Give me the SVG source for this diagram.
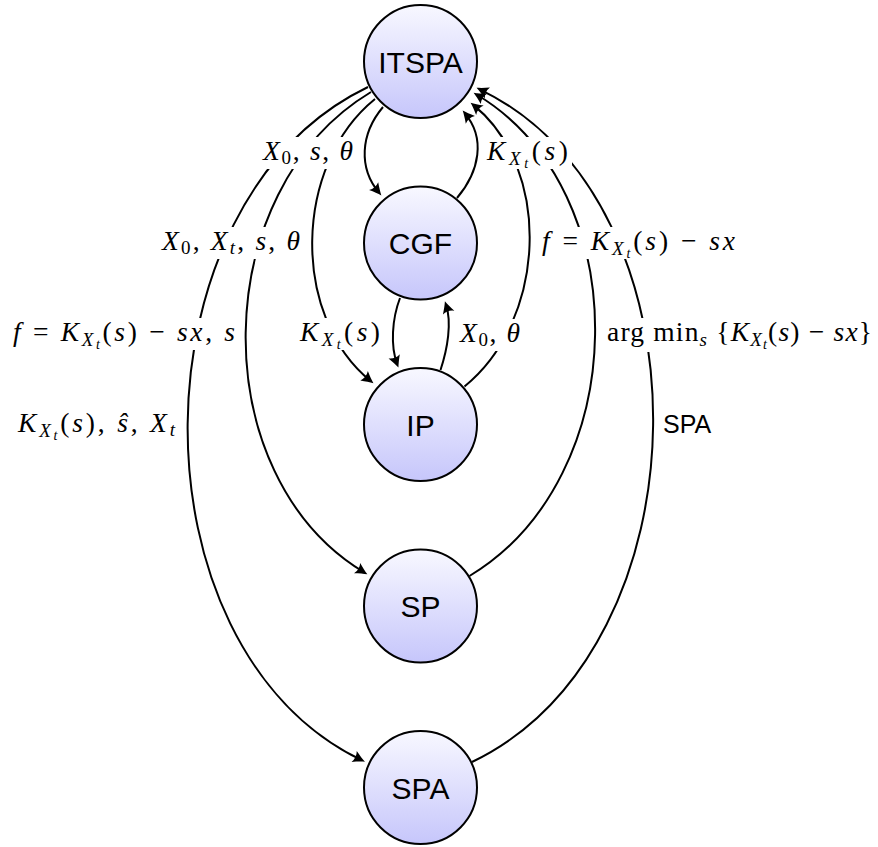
<svg xmlns="http://www.w3.org/2000/svg" width="878" height="847" viewBox="0 0 878 847">
<style>
.node circle{stroke:#000;stroke-width:2;fill:url(#nodeFill)}
.node text{font-family:"Liberation Sans",Arial,sans-serif;font-size:30px;text-anchor:middle;fill:#000}
.edge{fill:none;stroke:#000;stroke-width:2}
.arrow{marker-end:url(#ah)}
.bg{fill:#fff;stroke:none}
.m{font-family:"Liberation Serif","Times New Roman",serif;font-size:27.5px;fill:#000}
.i{font-style:italic}
.sans{font-family:"Liberation Sans",Arial,sans-serif;font-size:25px;fill:#000}
</style>
<defs>
<linearGradient id="nodeFill" x1="0" y1="0" x2="0" y2="1">
<stop offset="0" stop-color="#f8f8ff"/>
<stop offset="1" stop-color="#c6c6fb"/>
</linearGradient>
<marker id="ah" markerUnits="userSpaceOnUse" viewBox="-14 -8 18 16" markerWidth="18" markerHeight="16" refX="-3" refY="0" orient="auto" overflow="visible">
<path d="M0.5,0 C-3,-1.4 -7,-3.4 -11.5,-6 Q-8.5,0 -11.5,6 C-7,3.4 -3,1.4 0.5,0 Z" fill="#000"/>
</marker>
</defs>

<g id="connectors">
<path class="edge arrow" d="M368,87 C130.3,201.6 126.8,646.9 361.8,760.2"/>
<path class="edge arrow" d="M371,92 C207,190.4 203,475.6 364.4,572.5"/>
<path class="edge arrow" d="M375,99 C293,165.4 291,316.6 370.7,381.1"/>
<path class="edge arrow" d="M383,107 C360.3,134 358.3,168 379.1,192.7"/>
<path class="edge arrow" d="M400,298 C392,319 390.3,346 397.2,364.2"/>
<path class="edge arrow" d="M440.5,370 C447.5,349 452,322.7 446,304.5"/>
<path class="edge arrow" d="M457,198 C479.7,171 485.7,138 464.9,113.3"/>
<path class="edge arrow" d="M464.5,386.5 C546.5,320.1 553,169.4 473.3,104.9"/>
<path class="edge arrow" d="M469.5,576 C633.5,477.6 638,191.4 476.6,94.5"/>
<path class="edge arrow" d="M472,762 C709.7,647.4 714.7,202.6 479.7,89.3"/>
</g>

<g id="edge-labels">
<rect class="bg" x="259" y="137" width="98" height="32"/>
<rect class="bg" x="483" y="137" width="89" height="32"/>
<rect class="bg" x="158" y="227" width="146" height="32"/>
<rect class="bg" x="9" y="318" width="230" height="32"/>
<rect class="bg" x="14" y="409" width="165" height="32"/>
<rect class="bg" x="538" y="227" width="201" height="32"/>
<rect class="bg" x="603" y="318" width="273" height="34"/>
<rect class="bg" x="659" y="410" width="55" height="30"/>
<rect class="bg" x="296" y="318" width="88" height="32"/>
<rect class="bg" x="456" y="319" width="68" height="32"/>

<text class="m" x="263" y="160" textLength="90"><tspan class="i">X</tspan><tspan font-size="19" dy="4">0</tspan><tspan dy="-4">, </tspan><tspan class="i">s</tspan>, <tspan class="i">θ</tspan></text>
<text class="m" x="487" y="160" textLength="81"><tspan class="i">K</tspan><tspan class="i" font-size="19" dy="5">X</tspan><tspan class="i" font-size="14" dy="3">t</tspan><tspan dy="-8">(</tspan><tspan class="i">s</tspan>)</text>
<text class="m" x="162" y="250" textLength="138"><tspan class="i">X</tspan><tspan font-size="19" dy="4">0</tspan><tspan dy="-4">, </tspan><tspan class="i">X</tspan><tspan class="i" font-size="19" dy="4">t</tspan><tspan dy="-4">, </tspan><tspan class="i">s</tspan>, <tspan class="i">θ</tspan></text>
<text class="m" x="13" y="341" textLength="222"><tspan class="i">f</tspan> = <tspan class="i">K</tspan><tspan class="i" font-size="19" dy="5">X</tspan><tspan class="i" font-size="14" dy="3">t</tspan><tspan dy="-8">(</tspan><tspan class="i">s</tspan>) − <tspan class="i">sx</tspan>, <tspan class="i">s</tspan></text>
<text class="m" x="18" y="432" textLength="157"><tspan class="i">K</tspan><tspan class="i" font-size="19" dy="5">X</tspan><tspan class="i" font-size="14" dy="3">t</tspan><tspan dy="-8">(</tspan><tspan class="i">s</tspan>), <tspan class="i">ŝ</tspan>, <tspan class="i">X</tspan><tspan class="i" font-size="19" dy="4">t</tspan></text>
<text class="m" x="542" y="250" textLength="193"><tspan class="i">f</tspan> = <tspan class="i">K</tspan><tspan class="i" font-size="19" dy="5">X</tspan><tspan class="i" font-size="14" dy="3">t</tspan><tspan dy="-8">(</tspan><tspan class="i">s</tspan>) − <tspan class="i">sx</tspan></text>
<text class="m" x="607" y="341" textLength="265">arg min<tspan class="i" font-size="19" dy="5">s</tspan><tspan dy="-5"> {</tspan><tspan class="i">K</tspan><tspan class="i" font-size="19" dy="5">X</tspan><tspan class="i" font-size="14" dy="3">t</tspan><tspan dy="-8">(</tspan><tspan class="i">s</tspan>) − <tspan class="i">sx</tspan>}</text>
<text class="sans" x="663" y="433">SPA</text>
<text class="m" x="300" y="341" textLength="80"><tspan class="i">K</tspan><tspan class="i" font-size="19" dy="5">X</tspan><tspan class="i" font-size="14" dy="3">t</tspan><tspan dy="-8">(</tspan><tspan class="i">s</tspan>)</text>
<text class="m" x="460" y="342" textLength="60"><tspan class="i">X</tspan><tspan font-size="19" dy="4">0</tspan><tspan dy="-4">, </tspan><tspan class="i">θ</tspan></text>
</g>

<g id="node-ITSPA" class="node"><circle cx="420.5" cy="61.5" r="56.5"/><text x="420.5" y="72.5">ITSPA</text></g>
<g id="node-CGF" class="node"><circle cx="420.5" cy="243" r="56.5"/><text x="420.5" y="254">CGF</text></g>
<g id="node-IP" class="node"><circle cx="420.5" cy="424.5" r="56.5"/><text x="420.5" y="435.5">IP</text></g>
<g id="node-SP" class="node"><circle cx="420.5" cy="606" r="56.5"/><text x="420.5" y="617">SP</text></g>
<g id="node-SPA" class="node"><circle cx="420.5" cy="787.5" r="56.5"/><text x="420.5" y="798.5">SPA</text></g>
</svg>
